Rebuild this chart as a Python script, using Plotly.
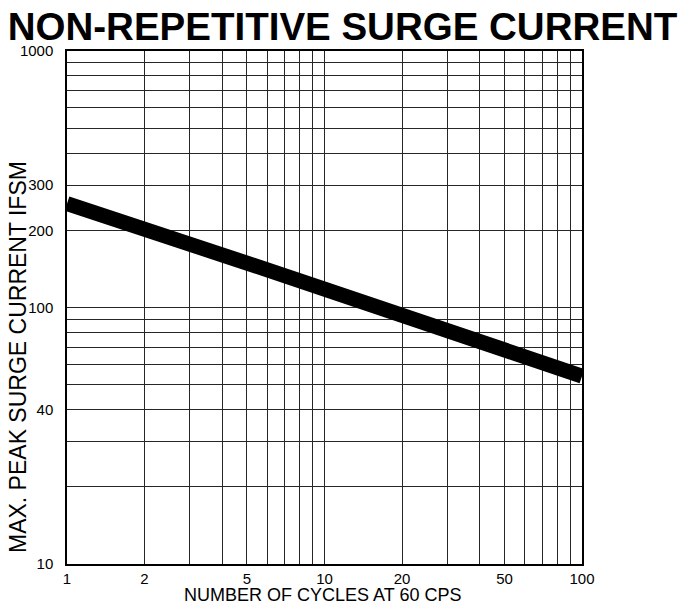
import plotly.graph_objects as go

# Data
cycles = [1, 2, 5, 10, 20, 50, 100]
surge_current = [254, 204, 149, 118, 93, 68, 54]

x_grid = [1, 2, 3, 4, 5, 6, 7, 8, 9, 10, 20, 30, 40, 50, 60, 70, 80, 90, 100]
x_labels = {1: "1", 2: "2", 5: "5", 10: "10", 20: "20", 50: "50", 100: "100"}
y_grid = [10, 20, 30, 40, 50, 60, 70, 80, 90, 100, 200, 300, 400, 500, 600, 700, 800, 900, 1000]
y_labels = {10: "10", 40: "40", 100: "100", 200: "200", 300: "300", 1000: "1000"}

title_text = "NON-REPETITIVE SURGE CURRENT"
x_title = "NUMBER OF CYCLES AT 60 CPS"
y_title = "MAX. PEAK SURGE CURRENT IFSM"

W, H = 685, 605
L, R, T, B = 67, 103, 51, 41

fig = go.Figure()
fig.add_trace(go.Scatter(
    x=cycles, y=surge_current, mode="lines",
    line=dict(color="black", width=15),
    showlegend=False, hoverinfo="skip",
))

font_family = "Liberation Sans, Arial, Helvetica, sans-serif"

fig.update_layout(
    width=W, height=H,
    margin=dict(l=L, r=R, t=T, b=B, autoexpand=False),
    paper_bgcolor="white", plot_bgcolor="white",
    font=dict(family=font_family, color="black"),
    title=dict(
        text="<b>" + title_text + "</b>",
        font=dict(size=38.5, family=font_family, color="black"),
        x=0.5, xref="container", xanchor="center",
        y=1 - 27 / H, yref="container", yanchor="middle",
    ),
    xaxis=dict(
        type="log", range=[0, 2],
        tickvals=x_grid,
        ticktext=[x_labels.get(v, "") for v in x_grid],
        showgrid=True, gridcolor="#262626", gridwidth=1,
        showline=True, linecolor="black", linewidth=1.5, mirror=True,
        ticks="", tickfont=dict(size=15, color="black"),
        zeroline=False,
    ),
    yaxis=dict(
        type="log", range=[1, 3],
        tickvals=y_grid,
        ticktext=[y_labels.get(v, "") for v in y_grid],
        showgrid=True, gridcolor="#262626", gridwidth=1,
        showline=True, linecolor="black", linewidth=1.5, mirror=True,
        ticks="", tickfont=dict(size=15, color="black"),
        ticklabelstandoff=9,
        zeroline=False,
    ),
    annotations=[
        dict(text=x_title, xref="paper", yref="paper",
             x=(322 - L) / (W - L - R), y=(H - B - 595) / (H - T - B),
             xanchor="center", yanchor="middle", showarrow=False,
             font=dict(size=18, color="black", family=font_family)),
        dict(text=y_title, xref="paper", yref="paper",
             x=(18 - L) / (W - L - R), y=(H - B - 357) / (H - T - B),
             xanchor="center", yanchor="middle", showarrow=False, textangle=-90,
             font=dict(size=23, color="black", family=font_family)),
    ],
)

fig.write_html("out.html", config={"displayModeBar": False},
               post_script="document.body.style.margin='0px';")
